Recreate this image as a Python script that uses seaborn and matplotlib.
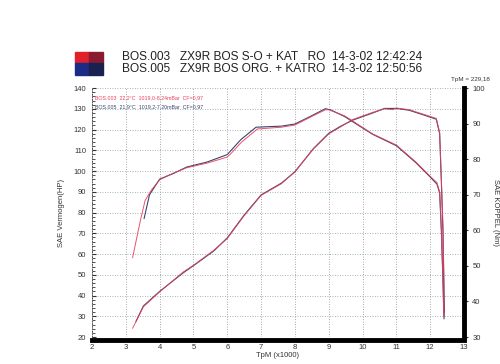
import matplotlib.pyplot as plt
import matplotlib.patches as mpatches
from matplotlib.ticker import MultipleLocator
import seaborn as sns
import pandas as pd

# run BOS.003 (red) - power, HP (left axis)
rpm_pw_003 = [3.2, 3.52, 4.0, 4.7, 5.0, 5.6, 6.0, 6.5, 7.0, 7.6, 8.0, 8.55, 9.0, 9.33,
              9.7, 10.3, 10.65, 10.9, 11.0, 11.38, 11.78, 12.18, 12.28, 12.33, 12.38, 12.42]
pw_003 = [24.2, 34.6, 41.8, 51.4, 54.6, 61.8, 67.5, 78.5, 88.3, 93.9, 99.8, 110.7, 117.9, 121.1,
          124.8, 128.3, 130.0, 129.6, 130.4, 129.6, 127.5, 125.4, 118.7, 96.3, 72.3, 30.0]

# run BOS.003 (red) - torque, Nm (right axis)
rpm_tq_003 = [3.2, 3.42, 3.57, 3.76, 4.0, 4.2, 4.41, 4.8, 5.4, 6.0, 6.1, 6.42, 6.89, 7.6, 8.0,
              8.45, 8.9, 9.0, 9.47, 9.7, 10.3, 11.0, 11.58, 11.98, 12.2, 12.28, 12.33, 12.38, 12.4]
tq_003 = [52.3, 62.3, 68.4, 71.4, 74.2, 75.2, 76.1, 77.6, 78.9, 80.6, 81.5, 84.8, 88.5, 89.0, 89.6,
          91.8, 93.9, 93.9, 92.2, 90.8, 87.1, 84.0, 79.2, 75.4, 73.4, 70.8, 60.5, 44.6, 35.8]

# run BOS.005 (blue) - power, HP
rpm_pw_005 = [3.3, 3.52, 4.0, 4.7, 5.0, 5.6, 6.0, 6.5, 7.0, 7.6, 8.0, 8.55, 9.0, 9.33,
              9.7, 10.3, 10.65, 11.0, 11.38, 11.78, 12.18, 12.28, 12.33, 12.38, 12.42]
pw_005 = [27.5, 35.0, 42.0, 51.0, 54.4, 61.5, 67.8, 78.8, 88.5, 94.2, 99.6, 110.9, 118.2, 121.4,
          124.5, 128.0, 130.2, 130.2, 129.3, 127.2, 125.0, 118.0, 95.0, 70.0, 32.0]

# run BOS.005 (blue) - torque, Nm
rpm_tq_005 = [3.54, 3.7, 4.0, 4.41, 4.8, 5.4, 6.0, 6.4, 6.85, 7.6, 8.0, 8.45, 8.9, 9.05,
              9.47, 9.7, 10.3, 11.0, 11.58, 11.98, 12.2, 12.28, 12.33, 12.38, 12.41]
tq_005 = [63.3, 70.0, 74.4, 76.0, 77.8, 79.2, 81.3, 85.5, 89.0, 89.3, 89.9, 92.0, 94.2, 93.9,
          92.0, 90.6, 87.0, 83.8, 79.0, 75.2, 73.0, 70.5, 60.0, 45.0, 35.1]

red = '#e8405a'
blue = '#3a4470'

sns.set_style('white')
plt.rcParams['font.family'] = ['Liberation Sans', 'DejaVu Sans']

fig = plt.figure(figsize=(5, 3.64), dpi=100)
ax = fig.add_axes([0.184, 0.074, 0.744, 0.684])
ax2 = ax.twinx()

# power curves
sns.lineplot(x=rpm_pw_005, y=pw_005, ax=ax, sort=False, estimator=None, color=blue, linewidth=0.8)
sns.lineplot(x=rpm_pw_003, y=pw_003, ax=ax, sort=False, estimator=None, color=red, linewidth=0.7, alpha=0.9)
# torque curves
sns.lineplot(x=rpm_tq_005, y=tq_005, ax=ax2, sort=False, estimator=None, color=blue, linewidth=0.8)
sns.lineplot(x=rpm_tq_003, y=tq_003, ax=ax2, sort=False, estimator=None, color=red, linewidth=0.7, alpha=0.9)

ax.set_xlim(2, 13)
ax.set_ylim(20, 140)
ax2.set_ylim(30, 100)
ax.xaxis.set_major_locator(MultipleLocator(1))
ax.xaxis.set_minor_locator(MultipleLocator(0.2))
ax.yaxis.set_major_locator(MultipleLocator(10))
ax.yaxis.set_minor_locator(MultipleLocator(2))
ax2.yaxis.set_major_locator(MultipleLocator(10))
ax2.yaxis.set_minor_locator(MultipleLocator(2))

ax.grid(True, axis='x', which='major', linestyle=(0, (1, 2)), color='#8c8c8c', linewidth=0.6)
ax.grid(True, axis='y', which='major', linestyle=(0, (1, 2)), color='#7f9ea4', linewidth=0.6)

ax.tick_params(axis='x', which='both', direction='in', labelsize=5.5, pad=3, colors='#333333')
ax.tick_params(axis='x', which='major', length=3)
ax.tick_params(axis='x', which='minor', length=2)
ax.tick_params(axis='y', which='both', direction='in', labelsize=5.5, pad=4, colors='#333333')
ax.tick_params(axis='y', which='major', length=3)
ax.tick_params(axis='y', which='minor', length=2)
ax2.tick_params(axis='y', which='both', direction='out', labelsize=5.5, pad=3, colors='#333333')
ax2.tick_params(axis='y', which='major', length=3)
ax2.tick_params(axis='y', which='minor', length=1.5)

for s in ['top', 'right']:
    ax.spines[s].set_visible(False)
ax.spines['left'].set_linestyle(':')
ax.spines['left'].set_linewidth(0.7)
ax.spines['left'].set_color('#555555')
ax.spines['bottom'].set_linewidth(3.5)
ax.spines['bottom'].set_color('black')
ax.spines['bottom'].set_position(('outward', 2))
for s in ['top', 'left', 'bottom']:
    ax2.spines[s].set_visible(False)
ax2.spines['right'].set_linewidth(3.5)
ax2.spines['right'].set_color('black')

ax.set_xlabel('TpM (x1000)', fontsize=5.5, labelpad=1, color='#333333')
ax.set_ylabel('SAE Vermogen(HP)', fontsize=5.5, labelpad=6, color='#333333')
ax2.set_ylabel('SAE KOPPEL (Nm)', fontsize=5.5, rotation=270, labelpad=10, color='#333333')

# header with colour squares
fig.patches.append(mpatches.Rectangle((75/500, 1-63/364), 14/500, 11/364, transform=fig.transFigure, color='#e0202a'))
fig.patches.append(mpatches.Rectangle((89/500, 1-63/364), 14/500, 11/364, transform=fig.transFigure, color='#8a1a30'))
fig.patches.append(mpatches.Rectangle((75/500, 1-75/364), 14/500, 12/364, transform=fig.transFigure, color='#1c2c86'))
fig.patches.append(mpatches.Rectangle((89/500, 1-75/364), 14/500, 12/364, transform=fig.transFigure, color='#1a2050'))
fig.text(122/500, 1-57/364, 'BOS.003   ZX9R BOS S-O + KAT   RO  14-3-02 12:42:24', fontsize=8.6, va='center', color='#222222')
fig.text(122/500, 1-69/364, 'BOS.005   ZX9R BOS ORG. + KATRO  14-3-02 12:50:56', fontsize=8.6, va='center', color='#222222')

fig.text(95/500, 1-98/364, 'BOS.003  22,2°C  1019,0-8,24mBar  CF=0,97', fontsize=3.8, color=red, va='center')
fig.text(95/500, 1-107/364, 'BOS.005  21,9°C  1019,2-7,20mBar  CF=0,97', fontsize=3.8, color=blue, va='center')
fig.text(490/500, 1-80/364, 'TpM = 229,18', fontsize=4.5, ha='right', va='center', color='#333333')

fig.savefig('out.png', dpi=100)
